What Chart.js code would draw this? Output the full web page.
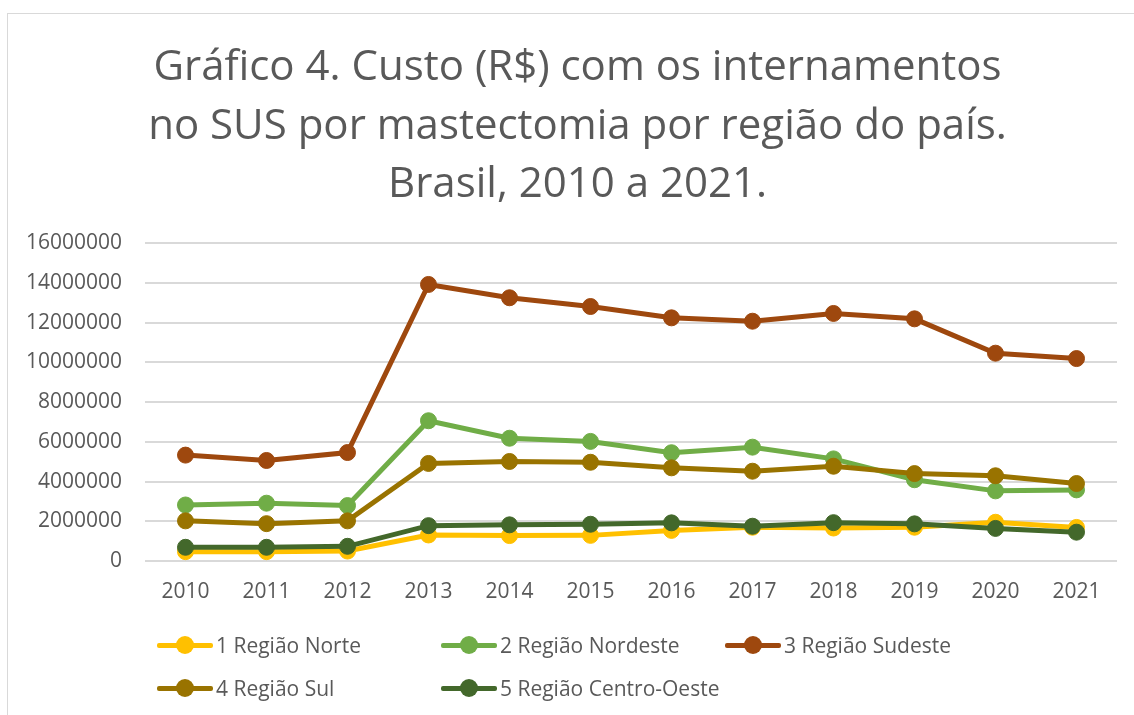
<!DOCTYPE html>
<html lang="pt-BR">
<head>
<meta charset="utf-8">
<title>Gráfico 4</title>
<script src="https://cdn.jsdelivr.net/npm/chart.js@4.4.1/dist/chart.umd.min.js"></script>
<style>
  html, body { margin: 0; padding: 0; background: #fff; }
  body { width: 1134px; height: 715px; position: relative; overflow: hidden; font-family: 'Open Sans', sans-serif; }
  .frame { position: absolute; left: 7px; top: 13px; width: 1200px; height: 800px; border: 1.5px solid #d9d9d9; box-sizing: border-box; }
  #wrap { position: absolute; left: 0; top: 0; width: 1134px; height: 715px; }
  .legend { position: absolute; left: 0; top: 0; width: 1134px; height: 715px; pointer-events: none; }
  .item { position: absolute; display: flex; align-items: center; color: #595959; font-size: 21px; white-space: nowrap; transform: translateY(-50%); }
  .swatch { position: relative; width: 56px; height: 18px; margin-right: 3px; }
  .swatch i { position: absolute; left: 0; right: 0; top: 6.5px; height: 5px; border-radius: 2px; }
  .swatch b { position: absolute; left: 19px; top: 0; width: 18px; height: 18px; border-radius: 50%; }
</style>
</head>
<body>
<div class="frame"></div>
<div id="wrap"><canvas id="custoChart" width="1134" height="715"></canvas></div>
<div class="legend" data-legend></div>
<script>
const years = ['2010', '2011', '2012', '2013', '2014', '2015', '2016', '2017', '2018', '2019', '2020', '2021'];
const regioes = ['1 Região Norte', '2 Região Nordeste', '3 Região Sudeste', '4 Região Sul', '5 Região Centro-Oeste'];
const cores = ['#FFC000', '#70AD47', '#9E480E', '#997300', '#43682B'];

const norte = [470000, 470000, 500000, 1310000, 1280000, 1290000, 1540000, 1700000, 1660000, 1700000, 1950000, 1690000];
const nordeste = [2820000, 2910000, 2790000, 7060000, 6180000, 6020000, 5450000, 5730000, 5140000, 4090000, 3530000, 3580000];
const sudeste = [5330000, 5060000, 5460000, 13920000, 13250000, 12810000, 12240000, 12070000, 12460000, 12190000, 10460000, 10190000];
const sul = [2020000, 1880000, 2020000, 4910000, 5010000, 4970000, 4690000, 4520000, 4770000, 4400000, 4290000, 3900000];
const centroOeste = [690000, 690000, 740000, 1780000, 1820000, 1850000, 1920000, 1750000, 1930000, 1870000, 1640000, 1450000];

const yTicks = [0, 2000000, 4000000, 6000000, 8000000, 10000000, 12000000, 14000000, 16000000];

const series = [norte, nordeste, sudeste, sul, centroOeste];

const datasets = series.map((data, i) => ({
    label: regioes[i],
    data,
    borderColor: cores[i],
    backgroundColor: cores[i],
    pointBackgroundColor: cores[i],
    pointBorderColor: cores[i],
    borderWidth: 5,
    pointRadius: 8,
    pointHoverRadius: 8,
    pointBorderWidth: 1,
    tension: 0,
    order: series.length - i,
}));

const tickColor = '#595959';

// o título do Excel fica centrado um pouco à direita
const shiftTitle = {
    id: 'shiftTitle',
    afterLayout(chart) {
        if (chart.titleBlock) chart.titleBlock.left += 38;
    },
};

new Chart(document.getElementById('custoChart'), {
    type: 'line',
    data: { labels: years, datasets },
    plugins: [shiftTitle],
    options: {
        responsive: false,
        animation: false,
        layout: { padding: { left: 0, right: 17, top: 0, bottom: 104 } },
        plugins: {
            legend: { display: false },
            tooltip: { enabled: false },
            title: {
                display: true,
                text: ['Gráfico 4. Custo (R$) com os internamentos', 'no SUS por mastectomia por região do país.', 'Brasil, 2010 a 2021.'],
                color: tickColor,
                font: { family: 'Open Sans', size: 42, weight: 'normal', lineHeight: 1.39 },
                padding: { top: 39, bottom: 29 },
            },
        },
        scales: {
            x: {
                offset: true,
                grid: { display: false, drawTicks: false },
                border: { display: false },
                ticks: { color: tickColor, padding: 18, font: { family: 'Open Sans', size: 21 } },
                afterFit: (scale) => { scale.height = 50; },
            },
            y: {
                min: 0,
                max: 16000000,
                afterBuildTicks: (scale) => { scale.ticks = yTicks.map((value) => ({ value })); },
                grid: { color: '#d9d9d9', lineWidth: 2, drawTicks: false },
                border: { display: false },
                ticks: { color: tickColor, padding: 23, font: { family: 'Open Sans', size: 21 }, callback: (v) => String(v) },
                afterFit: (scale) => { scale.width = 145; },
            },
        },
    },
});

// legenda no estilo do Excel, em colunas
const legendSlots = [[157, 645], [441, 645], [725, 645], [157, 688], [441, 688]];
const legend = document.querySelector('[data-legend]');
regioes.forEach((nome, i) => {
    const item = document.createElement('div');
    item.className = 'item';
    item.style.left = legendSlots[i][0] + 'px';
    item.style.top = legendSlots[i][1] + 'px';
    item.innerHTML = `<span class="swatch"><i style="background:${cores[i]}"></i><b style="background:${cores[i]}"></b></span>${nome}`;
    legend.appendChild(item);
});
</script>
</body>
</html>
